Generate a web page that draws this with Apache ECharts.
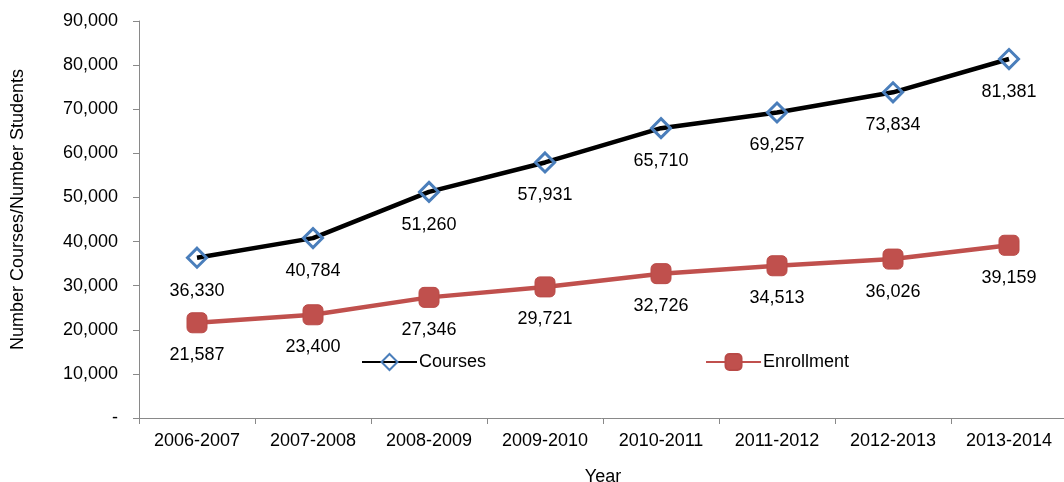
<!DOCTYPE html>
<html>
<head>
<meta charset="utf-8">
<script src="https://cdn.jsdelivr.net/npm/echarts@6/dist/echarts.min.js"></script>
<style>
  html, body { margin: 0; padding: 0; background: #fff; }
  #main { width: 1064px; height: 482px; }
</style>
</head>
<body>
<div id="main"></div>
<script>
var years = ['2006-2007', '2007-2008', '2008-2009', '2009-2010', '2010-2011', '2011-2012', '2012-2013', '2013-2014'];
var courses = [36330, 40784, 51260, 57931, 65710, 69257, 73834, 81381];
var enrollment = [21587, 23400, 27346, 29721, 32726, 34513, 36026, 39159];

var font = 'Liberation Sans, Arial, sans-serif';

function fmt(v) {
  if (v === 0) return '-';
  return v.toString().replace(/\B(?=(\d{3})+(?!\d))/g, ',');
}

var chart = echarts.init(document.getElementById('main'));

chart.setOption({
  animation: false,
  textStyle: { fontFamily: font },
  grid: { left: 139, right: -3, top: 21, bottom: 64, outerBoundsMode: 'none', containLabel: false },
  legend: {
    left: 356,
    top: 348,
    itemWidth: 55,
    itemHeight: 20,
    itemGap: 219,
    textStyle: { fontSize: 18, color: '#000', fontFamily: font, padding: [0, 0, 0, -3] },
    data: ['Courses', 'Enrollment']
  },
  xAxis: {
    type: 'category',
    data: years,
    name: 'Year',
    nameLocation: 'middle',
    nameGap: 50,
    nameTextStyle: { fontSize: 18, color: '#000' },
    axisLine: { lineStyle: { color: '#898989', width: 1 } },
    axisTick: { show: true, length: 6, lineStyle: { color: '#898989' } },
    axisLabel: { fontSize: 18, color: '#000', margin: 14 }
  },
  yAxis: {
    type: 'value',
    min: 0,
    max: 90000,
    interval: 10000,
    name: 'Number Courses/Number Students',
    nameLocation: 'middle',
    nameGap: 112,
    nameTextStyle: { fontSize: 18, color: '#000', padding: [0, 0, 0, 20] },
    axisLine: { show: true, lineStyle: { color: '#898989', width: 1 } },
    axisTick: { show: true, length: 6, lineStyle: { color: '#898989' } },
    splitLine: { show: false },
    axisLabel: { fontSize: 18, color: '#000', margin: 21, formatter: fmt }
  },
  series: [
    {
      name: 'Courses',
      type: 'line',
      data: courses,
      symbol: 'diamond',
      symbolSize: 19,
      lineStyle: { color: '#000', width: 4.5 },
      itemStyle: { color: 'rgba(255,255,255,0)', borderColor: '#4a7ebb', borderWidth: 3 },
      label: {
        show: true,
        position: 'bottom',
        distance: 13,
        fontSize: 18,
        color: '#000',
        formatter: function (p) { return fmt(p.value); }
      },
      z: 3
    },
    {
      name: 'Enrollment',
      type: 'line',
      data: enrollment,
      symbol: 'roundRect',
      symbolSize: 20,
      lineStyle: { color: '#c0504d', width: 4.5 },
      itemStyle: { color: '#c0504d', borderColor: '#b94a47', borderWidth: 1 },
      label: {
        show: true,
        position: 'bottom',
        distance: 13,
        fontSize: 18,
        color: '#000',
        formatter: function (p) { return fmt(p.value); }
      },
      z: 2
    }
  ]
});
</script>
</body>
</html>
